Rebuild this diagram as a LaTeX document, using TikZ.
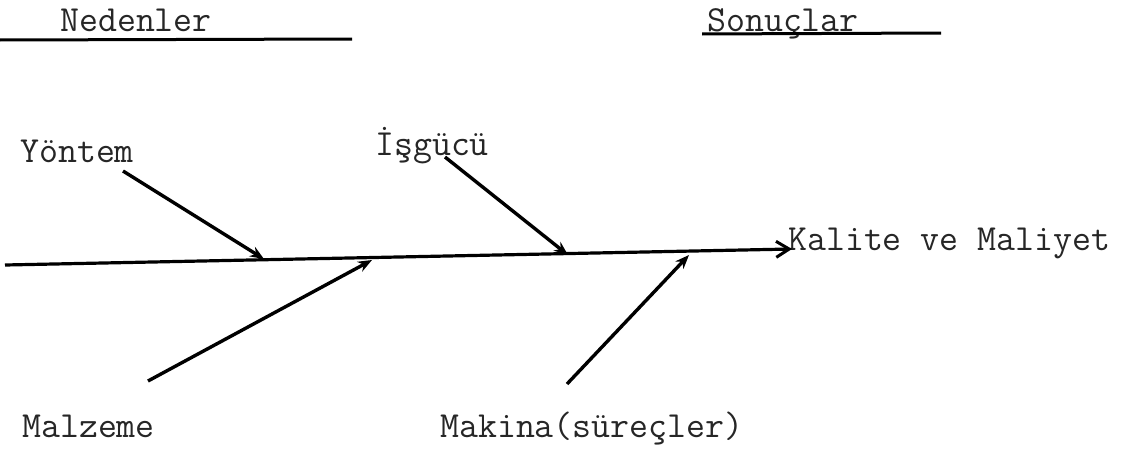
\documentclass[tikz,border=0pt]{standalone}
\usepackage{fontspec}
\usetikzlibrary{arrows.meta}
\begin{document}
\begin{tikzpicture}[x=1pt,y=-1pt,
  lbl/.style={font=\ttfamily\fontsize{36.8}{36.8}\selectfont,text=black!85,inner sep=0pt,anchor=base west},
  rule/.style={line width=3pt,black},
  branch/.style={line width=3.4pt,black,-{Stealth[length=14pt,width=11pt]}},
  spine/.style={line width=3.2pt,black,-{Straight Barb[length=13pt,width=16pt,line width=3pt]}}]
\useasboundingbox (0,0) rectangle (1122,463);
% headings
\node[lbl] (ned) at (60,31) {Nedenler};
\node[lbl] (son) at (707,31) {Sonuçlar};
\coordinate (n1) at (0,40);
\coordinate (n2) at (352,39);
\coordinate (s1) at (702,34);
\coordinate (s2) at (941,33);
\draw[rule] (n1) -- (n2);
\draw[rule] (s1) -- (s2);
% labels
\node[lbl] (yon) at (20,162) {Yöntem};
\node[lbl] (isg) at (375,155) {İşgücü};
\node[lbl] (mal) at (22,437) {Malzeme};
\node[lbl] (mak) at (440,437) {Makina(süreçler)};
\node[lbl] (kal) at (788,250) {Kalite ve Maliyet};
% spine
\coordinate (sp0) at (5,265);
\coordinate (sp1) at (792,249);
\draw[spine] (sp0) -- (sp1);
% branch points
\coordinate (y0) at (123,171);
\coordinate (y1) at (264,259);
\coordinate (i0) at (445,157);
\coordinate (i1) at (568,255);
\coordinate (m0) at (148,381);
\coordinate (m1) at (372,260);
\coordinate (k0) at (567,384);
\coordinate (k1) at (689,255);
\draw[branch] (y0) -- (y1);
\draw[branch] (i0) -- (i1);
\draw[branch] (m0) -- (m1);
\draw[branch] (k0) -- (k1);
\end{tikzpicture}
\end{document}
